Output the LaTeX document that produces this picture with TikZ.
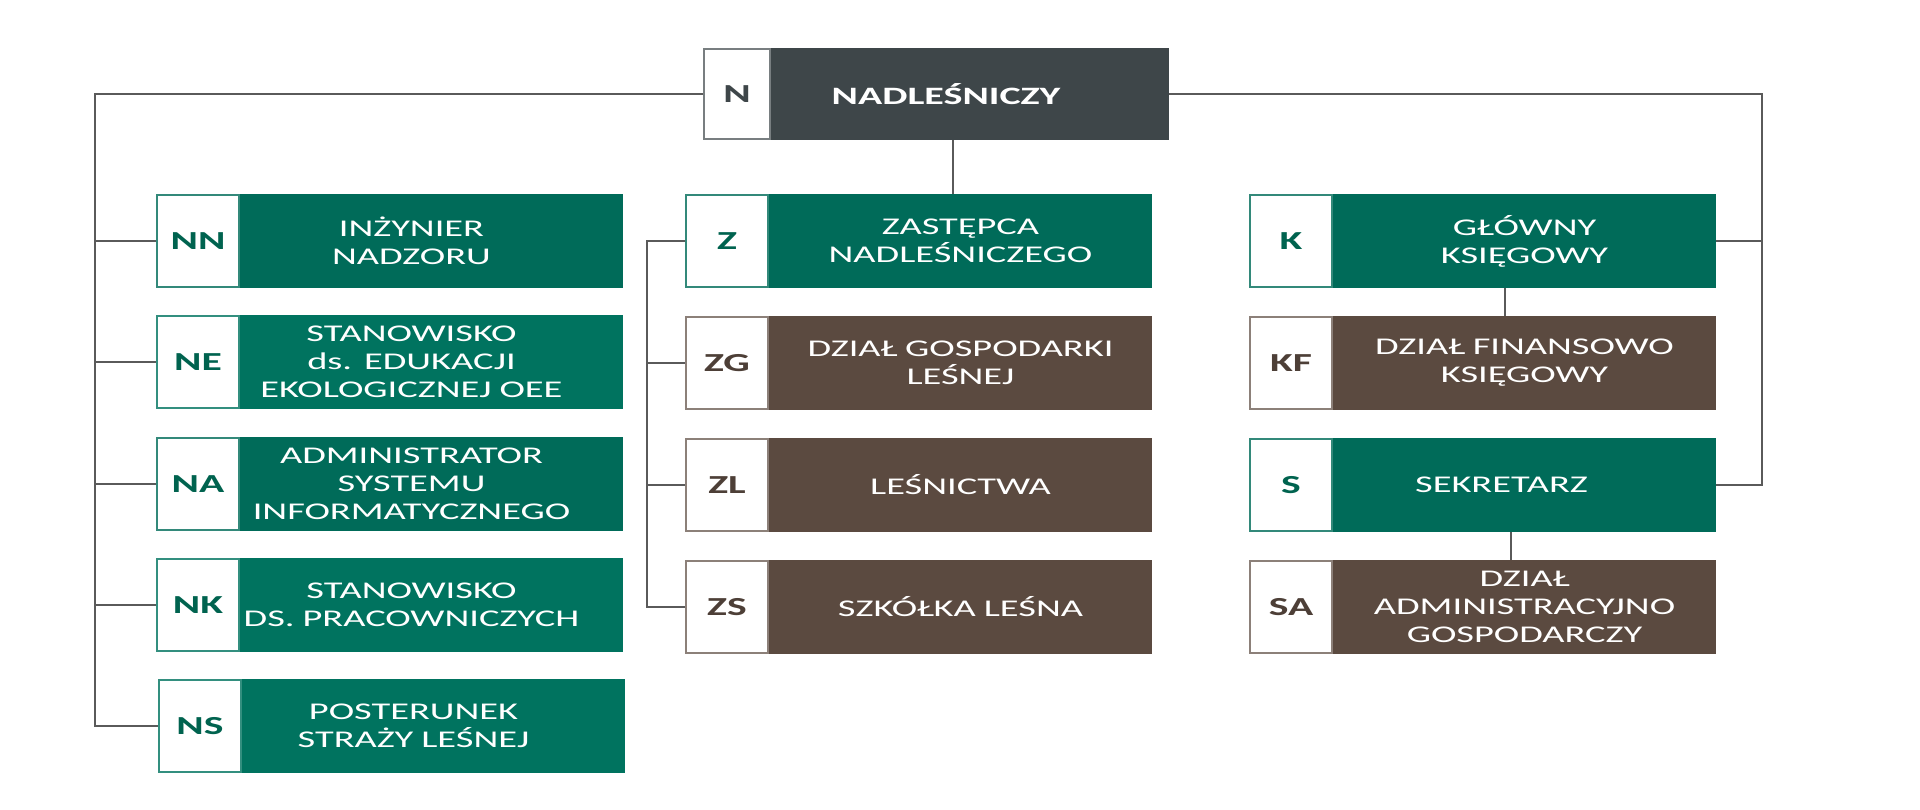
\documentclass[tikz,border=0pt]{standalone}
\usepackage{fontspec}
\setmainfont{Carlito}[FakeStretch=1.6]
\usetikzlibrary{positioning}
\definecolor{leafgreen}{HTML}{006B59}
\definecolor{mossgreen}{HTML}{00735F}
\definecolor{barkbrown}{HTML}{5B4A40}
\definecolor{slate}{HTML}{3E4649}
\definecolor{codegreen}{HTML}{00634F}
\definecolor{codebrown}{HTML}{4D3F37}
\definecolor{wire}{HTML}{5A5A5A}
\tikzset{
	link/.style={
		draw=wire,
		line width=2pt,
	},
	code/.style={
		draw,
		fill=white,
		line width=1.5pt,
		minimum width=82pt,
		minimum height=92pt,
		inner sep=0pt,
		font=\fontsize{26}{30}\selectfont\bfseries,
	},
	unit/.style={
		draw,
		line width=1.5pt,
		minimum height=92pt,
		text width=382pt,
		inner sep=0pt,
		align=center,
		text=white,
		font=\fontsize{24}{28}\selectfont,
	},
	% text sits a little left of the middle
	shoved/.style={
		execute at begin node={\leftskip=0pt plus 1fill\rightskip=#1 plus 1fill\parfillskip=0pt},
	},
	shoved/.default=40pt,
	chief/.style={draw=slate!70, text=slate},
	chieffill/.style={draw=slate, fill=slate},
	green/.style={draw=leafgreen!80, text=codegreen},
	greenfill/.style={draw=leafgreen, fill=leafgreen},
	moss/.style={draw=mossgreen!80, text=codegreen},
	mossfill/.style={draw=mossgreen, fill=mossgreen},
	brown/.style={draw=barkbrown!70, text=codebrown},
	brownfill/.style={draw=barkbrown, fill=barkbrown},
}

\begin{document}
\begin{tikzpicture}[x=1pt,y=-1pt]
	\useasboundingbox (0,0) rectangle (1920,810);

	\node[code, chief, minimum width=66pt, minimum height=90pt] (n) at (737,94) {N};
	\node[unit, chieffill, right=0pt of n, minimum height=90pt, text width=397pt, shoved=48pt,
		font=\fontsize{25}{30}\selectfont\bfseries] (n-lab) {NADLEŚNICZY};

%*********

	\node[code, green] 		(nn) at (198,241) {NN};
	\node[unit, greenfill, shoved, right=0pt of nn] 	(nn-lab) {INŻYNIER\\NADZORU};
	\node[code, moss] 		(ne) at (198,362) {NE};
	\node[unit, mossfill, shoved, right=0pt of ne] 	(ne-lab) {STANOWISKO\\ds. EDUKACJI\\EKOLOGICZNEJ OEE};
	\node[code, green] 		(na) at (198,484) {NA};
	\node[unit, greenfill, shoved, right=0pt of na] 	(na-lab) {ADMINISTRATOR\\SYSTEMU\\INFORMATYCZNEGO};
	\node[code, moss] 		(nk) at (198,605) {NK};
	\node[unit, mossfill, shoved, right=0pt of nk] 	(nk-lab) {STANOWISKO\\DS. PRACOWNICZYCH};
	\node[code, moss] 		(ns) at (200,726) {NS};
	\node[unit, mossfill, shoved, right=0pt of ns] 	(ns-lab) {POSTERUNEK\\STRAŻY LEŚNEJ};

%*********

	\node[code, green] 		(z) at (727,241) {Z};
	\node[unit, greenfill, right=0pt of z] 	(z-lab) {ZASTĘPCA\\NADLEŚNICZEGO};
	\node[code, brown] 		(zg) at (727,363) {ZG};
	\node[unit, brownfill, right=0pt of zg] 	(zg-lab) {DZIAŁ GOSPODARKI\\LEŚNEJ};
	\node[code, brown] 		(zl) at (727,485) {ZL};
	\node[unit, brownfill, right=0pt of zl] 	(zl-lab) {LEŚNICTWA};
	\node[code, brown] 		(zs) at (727,607) {ZS};
	\node[unit, brownfill, right=0pt of zs] 	(zs-lab) {SZKÓŁKA LEŚNA};

%*********

	\node[code, green] 		(k) at (1291,241) {K};
	\node[unit, greenfill, right=0pt of k] 	(k-lab) {GŁÓWNY\\KSIĘGOWY};
	\node[code, brown] 		(kf) at (1291,363) {KF};
	\node[unit, brownfill, right=0pt of kf] 	(kf-lab) {DZIAŁ FINANSOWO\\KSIĘGOWY};
	\node[code, green] 		(s) at (1291,485) {S};
	\node[unit, greenfill, shoved=46pt, right=0pt of s] 	(s-lab) {SEKRETARZ};
	\node[code, brown] 		(sa) at (1291,607) {SA};
	\node[unit, brownfill, right=0pt of sa] 	(sa-lab) {DZIAŁ\\ADMINISTRACYJNO\\GOSPODARCZY};

%*********

	\coordinate (lbus) at (95,94);
	\coordinate (zbus) at (647,241);
	\coordinate (rbus) at (1762,94);

	\draw[link] (n.west) -- (lbus) -- (lbus |- ns.west) -- (ns.west);
	\foreach \u in {nn,ne,na,nk}
		\draw[link] (lbus |- \u.west) -- (\u.west);

	\draw[link] ([xshift=-8pt]z-lab.north) -- ([xshift=-8pt]z-lab.north |- n-lab.south);
	\draw[link] (z.west) -- (zbus) -- (zbus |- zs.west) -- (zs.west);
	\foreach \u in {zg,zl}
		\draw[link] (zbus |- \u.west) -- (\u.west);

	\draw[link] (n-lab.east) -- (rbus) -- (rbus |- s-lab.east) -- (s-lab.east);
	\draw[link] (k-lab.east) -- (rbus |- k-lab.east);
	\draw[link] ([xshift=-20pt]k-lab.south) -- ([xshift=-20pt]kf-lab.north);
	\draw[link] ([xshift=-14pt]s-lab.south) -- ([xshift=-14pt]sa-lab.north);

\end{tikzpicture}
\end{document}
